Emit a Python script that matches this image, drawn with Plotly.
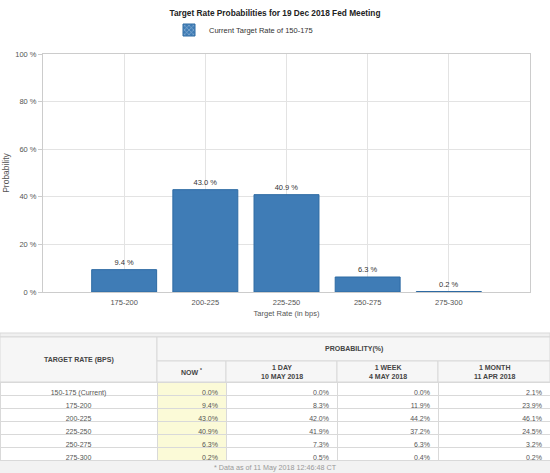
import plotly.graph_objects as go

# ---------------- data ----------------
rate_bins = ["175-200", "200-225", "225-250", "250-275", "275-300"]
now_prob = [9.4, 43.0, 40.9, 6.3, 0.2]

table_rates = ["150-175 (Current)", "175-200", "200-225", "225-250", "250-275", "275-300"]
table_now = ["0.0%", "9.4%", "43.0%", "40.9%", "6.3%", "0.2%"]
table_1day = ["0.0%", "8.3%", "42.0%", "41.9%", "7.3%", "0.5%"]
table_1week = ["0.0%", "11.9%", "44.2%", "37.2%", "6.3%", "0.4%"]
table_1month = ["2.1%", "23.9%", "46.1%", "24.5%", "3.2%", "0.2%"]

header_left = "TARGET RATE (BPS)"
header_group = "PROBABILITY(%)"
header_cols = ["NOW <sup>*</sup>", "1 DAY<br>10 MAY 2018", "1 WEEK<br>4 MAY 2018", "1 MONTH<br>11 APR 2018"]
footnote = "* Data as of 11 May 2018 12:46:48 CT"

chart_title = "Target Rate Probabilities for 19 Dec 2018 Fed Meeting"
legend_name = "Current Target Rate of 150-175"

# ---------------- layout helpers ----------------
W, H = 550, 473
def fx(px):
    return px / W
def fy(px):
    return 1 - px / H

FONT = "Liberation Sans, Arial, sans-serif"
BAR = "#3f7cb6"
GRID = "#e3e3e3"
LINE = "#d9d9d9"
HEAD_FILL = "#f6f6f6"

col_edges = [0, 157, 226, 337, 438, 550]
col_widths = [col_edges[i + 1] - col_edges[i] for i in range(5)]
row1_top, row2_top, body_top, body_bot, page_bot = 337, 361, 382, 460, 473
row_h = (body_bot - body_top) / len(table_rates)

fig = go.Figure()

fig.add_trace(go.Bar(
    x=rate_bins, y=now_prob, name=legend_name, width=0.8,
    marker=dict(color=BAR, line=dict(color="#2d6aa3", width=1)),
    texttemplate="%{y:.1f} %", textposition="outside", cliponaxis=False,
    textfont=dict(size=7.5, color="#333", family=FONT),
    showlegend=False,
))
# legend entry (hatched swatch like the original)
fig.add_trace(go.Bar(
    x=[None], y=[None], name=legend_name,
    marker=dict(color=BAR, pattern=dict(shape="x", fgcolor="white", size=4, solidity=0.3),
                line=dict(color="#2d6aa3", width=1)),
    showlegend=True,
))

# table body: first data row rendered as the table's header row, styled like a body row
columns = [table_rates, table_now, table_1day, table_1week, table_1month]
col_align = ["center", "right", "right", "right", "right"]
col_fill = ["white", "#fbfad7", "white", "white", "white"]
cell_font = dict(size=7, color="#555", family=FONT)
fig.add_trace(go.Table(
    domain=dict(x=[0, 1], y=[fy(body_bot + 1), fy(body_top)]),
    columnwidth=col_widths,
    header=dict(values=[[c[0]] for c in columns], align=col_align,
                fill=dict(color=col_fill), line=dict(color=LINE, width=1),
                font=cell_font, height=row_h),
    cells=dict(
        values=[c[1:] for c in columns],
        align=col_align,
        fill=dict(color=col_fill),
        line=dict(color=LINE, width=1),
        font=cell_font,
        height=row_h,
    ),
))

shapes = []
annotations = []
# top band above the table
shapes.append(dict(type="rect", xref="paper", yref="paper", x0=0, x1=1, y0=fy(row1_top), y1=fy(333),
                   fillcolor="#f0f0f0", line=dict(color=LINE, width=1), layer="below"))
# header cells
shapes.append(dict(type="rect", xref="paper", yref="paper", x0=fx(col_edges[0]), x1=fx(col_edges[1]),
                   y0=fy(body_top), y1=fy(row1_top), fillcolor=HEAD_FILL, line=dict(color=LINE, width=1), layer="below"))
shapes.append(dict(type="rect", xref="paper", yref="paper", x0=fx(col_edges[1]), x1=fx(col_edges[5]),
                   y0=fy(row2_top), y1=fy(row1_top), fillcolor=HEAD_FILL, line=dict(color=LINE, width=1), layer="below"))
for i in range(4):
    shapes.append(dict(type="rect", xref="paper", yref="paper", x0=fx(col_edges[i + 1]), x1=fx(col_edges[i + 2]),
                       y0=fy(body_top), y1=fy(row2_top), fillcolor=HEAD_FILL, line=dict(color=LINE, width=1), layer="below"))
# footnote band
shapes.append(dict(type="rect", xref="paper", yref="paper", x0=0, x1=1, y0=0, y1=fy(body_bot),
                   fillcolor="#f2f2f2", line=dict(width=0), layer="below"))

hfont = dict(size=7, color="#444", family=FONT)
def add_text(text, xpx, ypx, font):
    annotations.append(dict(text=text, xref="paper", yref="paper", x=fx(xpx), y=fy(ypx),
                            xanchor="center", yanchor="middle", align="center",
                            showarrow=False, font=font))

add_text("<b>" + header_left + "</b>", (col_edges[0] + col_edges[1]) / 2, (row1_top + body_top) / 2, hfont)
add_text("<b>" + header_group + "</b>", (col_edges[1] + col_edges[5]) / 2, (row1_top + row2_top) / 2, hfont)
for i, t in enumerate(header_cols):
    add_text("<b>" + t + "</b>", (col_edges[i + 1] + col_edges[i + 2]) / 2, (row2_top + body_top) / 2, hfont)
add_text(footnote, W / 2, (body_bot + page_bot) / 2 + 0.5, dict(size=7.2, color="#999", family=FONT))

fig.update_layout(
    width=W, height=H,
    margin=dict(l=0, r=0, t=0, b=0, autoexpand=False),
    paper_bgcolor="white", plot_bgcolor="white",
    font=dict(family=FONT, color="#555"),
    title=dict(text="<b>" + chart_title + "</b>", x=0.5, xanchor="center", y=fy(13), yanchor="middle",
               font=dict(size=8.3, color="#222", family=FONT)),
    legend=dict(orientation="h", x=fx(169), xanchor="left", y=fy(30), yanchor="middle",
                font=dict(size=7.5, color="#333", family=FONT), itemwidth=30),
    bargap=0.2,
    xaxis=dict(domain=[fx(43), fx(530)], type="category", range=[-1, 5], automargin=False,
               showgrid=True, gridcolor=GRID, gridwidth=1,
               showline=True, linecolor="#cccccc", mirror=True,
               ticks="outside", ticklen=3, tickcolor="rgba(0,0,0,0)",
               tickfont=dict(size=7.5, color="#555"),
               title=dict(text="Target Rate (in bps)", font=dict(size=7.5, color="#555"), standoff=4),
               fixedrange=True),
    yaxis=dict(domain=[fy(292), fy(54)], range=[0, 100], dtick=20, ticksuffix=" %", automargin=False,
               showgrid=True, gridcolor=GRID, gridwidth=1,
               showline=True, linecolor="#cccccc", mirror=True,
               ticks="outside", ticklen=4, tickcolor="#cccccc",
               tickfont=dict(size=7.5, color="#555"),
               title=dict(text="Probability", font=dict(size=8.5, color="#555"), standoff=4),
               zeroline=False, fixedrange=True),
    shapes=shapes, annotations=annotations,
)

fig.write_html("out.html", config={"displayModeBar": False},
               post_script="document.body.style.margin='0';document.body.style.overflow='hidden';")
